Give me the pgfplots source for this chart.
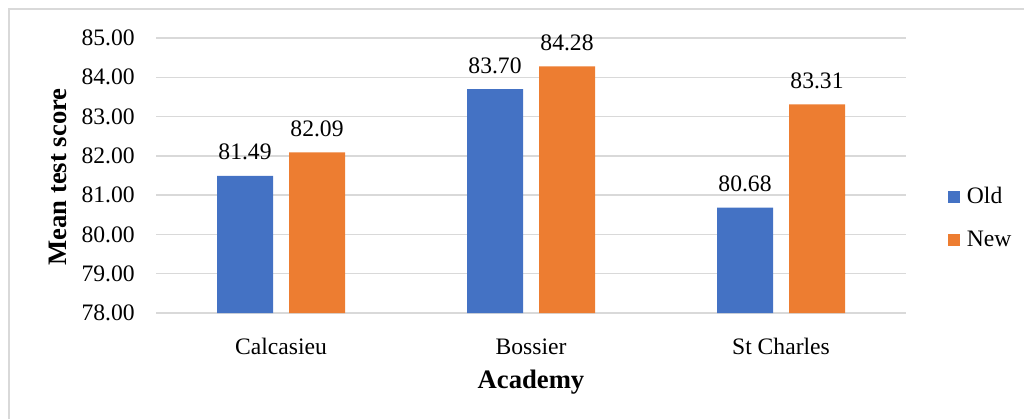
\documentclass[border=0pt]{standalone}
\usepackage{pgfplots}
\pgfplotsset{compat=1.18}
\usepackage{fontspec}
\setmainfont{Liberation Serif}
\definecolor{oldc}{HTML}{4472C4}
\definecolor{newc}{HTML}{ED7D31}
\definecolor{gridc}{HTML}{D9D9D9}
\newcommand{\lblfont}{\fontsize{17.7}{20}\selectfont}
\newcommand{\ttlfont}{\fontsize{20}{24}\selectfont\bfseries}
\begin{document}
\begin{tikzpicture}[x=0.75pt,y=-0.75pt]
\path[use as bounding box] (0,0) rectangle (1024,419);
\draw[gridc, line width=1.1pt] (9,419) -- (9,9) -- (1024,9);
\coordinate (ao) at (156,313);
\coordinate (yl) at (58,177);
\coordinate (xl) at (531,388);
\begin{axis}[
  at={(ao)}, anchor=south west,
  scale only axis, width=562.5pt, height=206.25pt,
  xmin=-0.5, xmax=2.5, ymin=78, ymax=85,
  ybar=12pt, bar width=42pt,
  xtick={0,1,2}, xticklabels={Calcasieu,Bossier,St Charles},
  ytick={78,79,...,85},
  /pgf/number format/fixed, /pgf/number format/fixed zerofill,
  /pgf/number format/precision=2, /pgf/number format/assume math mode=true,
  yticklabel style={anchor=east, inner sep=0pt, xshift=-15.75pt, font=\lblfont},
  xticklabel style={anchor=base, inner sep=0pt, yshift=-27pt, font=\lblfont},
  ymajorgrids, grid style={gridc, line width=1.1pt},
  axis line style={draw=none}, tick style={draw=none},
  nodes near coords,
  every node near coord/.append style={anchor=base, inner sep=0pt, yshift=12pt, font=\lblfont, text=black},
  legend style={at={(1,0.345)}, anchor=west, xshift=31.5pt, draw=none, font=\lblfont, row sep=15pt, column sep=3pt, inner sep=0pt},
  legend cell align=left,
  legend image code/.code={\fill[#1, draw=none] (0pt,-4.5pt) rectangle (9pt,4.5pt);},
]
\addplot[fill=oldc, draw=none] coordinates {(0,81.49) (1,83.70) (2,80.68)};
\addplot[fill=newc, draw=none] coordinates {(0,82.09) (1,84.28) (2,83.31)};
\legend{Old,New}
\end{axis}
\node[font=\ttlfont, rotate=90, anchor=center] at (yl) {Mean test score};
\node[font=\ttlfont, anchor=base] at (xl) {Academy};
\end{tikzpicture}
\end{document}
